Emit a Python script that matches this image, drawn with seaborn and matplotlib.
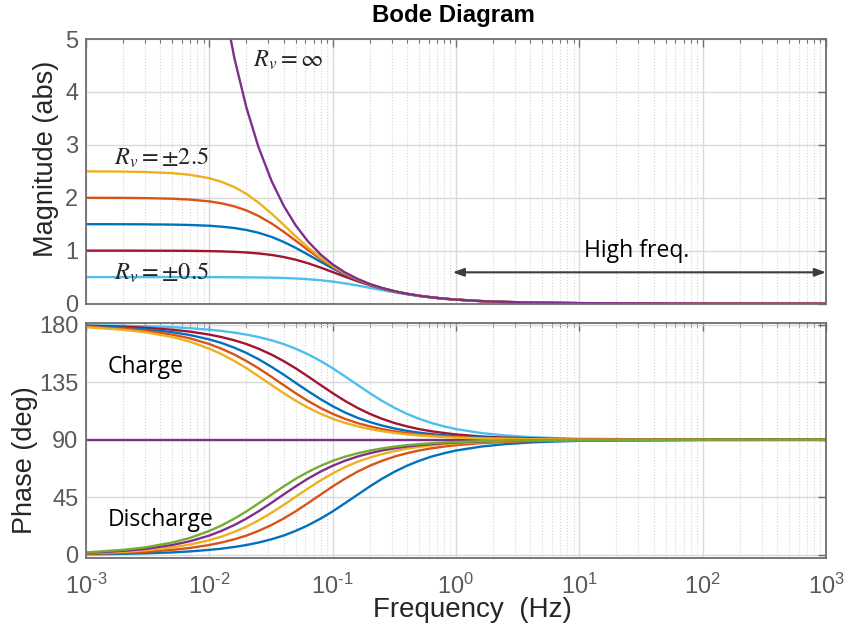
import numpy as np
import pandas as pd
import matplotlib
matplotlib.use("Agg")
import matplotlib.pyplot as plt
from matplotlib.ticker import FixedLocator, NullFormatter, FuncFormatter
import seaborn as sns

# Frequency grid (Hz)
freq = [0.001, 0.002, 0.003, 0.005, 0.007, 0.01, 0.0125, 0.016, 0.02, 0.025, 0.032, 0.04, 0.05,
        0.063, 0.08, 0.1, 0.125, 0.16, 0.2, 0.25, 0.32, 0.4, 0.5, 0.63, 0.8, 1, 1.6, 2.5, 4, 6.3,
        10, 100, 1000]

# Magnitude (abs) for each virtual resistance Rv
mag_r05 = [0.500, 0.500, 0.500, 0.500, 0.499, 0.499, 0.498, 0.497, 0.495, 0.493, 0.489, 0.483, 0.474,
           0.460, 0.440, 0.414, 0.382, 0.340, 0.297, 0.255, 0.210, 0.174, 0.142, 0.114, 0.091, 0.073,
           0.046, 0.030, 0.018, 0.012, 0.007, 0.001, 0.000]
mag_r10 = [1.000, 1.000, 0.999, 0.998, 0.996, 0.991, 0.986, 0.977, 0.965, 0.947, 0.918, 0.880, 0.829,
           0.762, 0.679, 0.595, 0.510, 0.420, 0.347, 0.284, 0.225, 0.182, 0.146, 0.117, 0.092, 0.074,
           0.046, 0.030, 0.019, 0.012, 0.007, 0.001, 0.000]
mag_r15 = [1.500, 1.499, 1.497, 1.492, 1.485, 1.470, 1.454, 1.427, 1.390, 1.338, 1.259, 1.165, 1.054,
           0.925, 0.788, 0.664, 0.551, 0.442, 0.359, 0.290, 0.229, 0.184, 0.147, 0.117, 0.092, 0.074,
           0.046, 0.030, 0.019, 0.012, 0.007, 0.001, 0.000]
mag_r20 = [1.999, 1.997, 1.993, 1.982, 1.965, 1.931, 1.895, 1.836, 1.760, 1.657, 1.513, 1.358, 1.190,
           1.013, 0.840, 0.694, 0.568, 0.451, 0.364, 0.293, 0.230, 0.184, 0.148, 0.117, 0.092, 0.074,
           0.046, 0.030, 0.019, 0.012, 0.007, 0.001, 0.000]
mag_r25 = [2.499, 2.494, 2.487, 2.465, 2.433, 2.369, 2.303, 2.199, 2.072, 1.910, 1.698, 1.487, 1.274,
           1.063, 0.868, 0.710, 0.576, 0.455, 0.366, 0.294, 0.230, 0.185, 0.148, 0.117, 0.092, 0.074,
           0.046, 0.030, 0.019, 0.012, 0.007, 0.001, 0.000]
mag_rinf = [74.03, 37.01, 24.68, 14.81, 10.58, 7.403, 5.922, 4.627, 3.701, 2.961, 2.313, 1.851, 1.481,
            1.175, 0.925, 0.740, 0.592, 0.463, 0.370, 0.296, 0.231, 0.185, 0.148, 0.118, 0.093, 0.074,
            0.046, 0.030, 0.019, 0.012, 0.007, 0.001, 0.000]

# Phase (deg) while charging (negative Rv)
chg_r05 = [179.6, 179.2, 178.8, 178.1, 177.3, 176.1, 175.2, 173.8, 172.3, 170.4, 167.8, 164.9, 161.3,
           156.9, 151.6, 146.0, 139.8, 132.8, 126.5, 120.6, 114.8, 110.3, 106.5, 103.2, 100.5, 98.4,
           95.3, 93.4, 92.1, 91.3, 90.8, 90.1, 90.0]
chg_r10 = [179.2, 178.5, 177.7, 176.1, 174.6, 172.3, 170.4, 167.8, 164.9, 161.3, 156.6, 151.6, 146.0,
           139.6, 132.8, 126.5, 120.6, 114.8, 110.3, 106.5, 103.0, 100.5, 98.4, 96.7, 95.3, 94.2,
           92.6, 91.7, 91.1, 90.7, 90.4, 90.0, 90.0]
chg_r15 = [178.8, 177.7, 176.5, 174.2, 171.9, 168.5, 165.8, 162.0, 157.9, 153.1, 147.0, 141.0, 134.6,
           128.1, 121.7, 116.3, 111.5, 107.1, 103.9, 101.2, 98.8, 97.0, 95.6, 94.5, 93.5, 92.8,
           91.8, 91.1, 90.7, 90.4, 90.3, 90.0, 90.0]
chg_r20 = [178.5, 176.9, 175.4, 172.3, 169.3, 164.9, 161.3, 156.6, 151.6, 146.0, 139.2, 132.8, 126.5,
           120.4, 114.8, 110.3, 106.5, 103.0, 100.5, 98.4, 96.6, 95.3, 94.2, 93.4, 92.6, 92.1,
           91.3, 90.8, 90.5, 90.3, 90.2, 90.0, 90.0]
chg_r25 = [178.1, 176.1, 174.2, 170.4, 166.7, 161.3, 157.1, 151.6, 146.0, 139.8, 132.8, 126.5, 120.6,
           115.2, 110.3, 106.5, 103.3, 100.5, 98.4, 96.8, 95.3, 94.2, 93.4, 92.7, 92.1, 91.7,
           91.1, 90.7, 90.4, 90.3, 90.2, 90.0, 90.0]

# Phase (deg) while discharging (positive Rv)
dis_r05 = [0.4, 0.8, 1.2, 1.9, 2.7, 3.9, 4.8, 6.2, 7.7, 9.6, 12.2, 15.1, 18.7,
           23.1, 28.4, 34.0, 40.2, 47.2, 53.5, 59.4, 65.2, 69.7, 73.5, 76.8, 79.5, 81.6,
           84.7, 86.6, 87.9, 88.7, 89.2, 89.9, 90.0]
dis_r10 = [0.8, 1.5, 2.3, 3.9, 5.4, 7.7, 9.6, 12.2, 15.1, 18.7, 23.4, 28.4, 34.0,
           40.4, 47.2, 53.5, 59.4, 65.2, 69.7, 73.5, 77.0, 79.5, 81.6, 83.3, 84.7, 85.8,
           87.4, 88.3, 88.9, 89.3, 89.6, 90.0, 90.0]
dis_r15 = [1.2, 2.3, 3.5, 5.8, 8.1, 11.5, 14.2, 18.0, 22.1, 26.9, 33.0, 39.0, 45.4,
           51.9, 58.3, 63.7, 68.5, 72.9, 76.1, 78.8, 81.2, 83.0, 84.4, 85.5, 86.5, 87.2,
           88.2, 88.9, 89.3, 89.6, 89.7, 90.0, 90.0]
dis_r20 = [1.5, 3.1, 4.6, 7.7, 10.7, 15.1, 18.7, 23.4, 28.4, 34.0, 40.8, 47.2, 53.5,
           59.6, 65.2, 69.7, 73.5, 77.0, 79.5, 81.6, 83.4, 84.7, 85.8, 86.6, 87.4, 87.9,
           88.7, 89.2, 89.5, 89.7, 89.8, 90.0, 90.0]
dis_r25 = [1.9, 3.9, 5.8, 9.6, 13.3, 18.7, 22.9, 28.4, 34.0, 40.2, 47.2, 53.5, 59.4,
           64.8, 69.7, 73.5, 76.7, 79.5, 81.6, 83.2, 84.7, 85.8, 86.6, 87.3, 87.9, 88.3,
           88.9, 89.3, 89.6, 89.7, 89.8, 90.0, 90.0]

# Phase (deg) for Rv = infinity
ph_rinf = [90.0, 90.0]
freq_rinf = [0.001, 1000]

# Axis ticks
decades = [1e-3, 1e-2, 1e-1, 1e0, 1e1, 1e2, 1e3]
mag_ticks = [0, 1, 2, 3, 4, 5]
phase_ticks = [0, 45, 90, 135, 180]

BLUE, ORANGE, YELLOW = "#0072BD", "#D95319", "#EDB120"
PURPLE, GREEN, CYAN, RED = "#7E2F8E", "#77AC30", "#4DBEEE", "#A2142F"

mag_series = [(mag_r05, CYAN), (mag_r10, RED), (mag_r15, BLUE), (mag_r20, ORANGE),
              (mag_r25, YELLOW), (mag_rinf, PURPLE)]
chg_series = [(chg_r05, CYAN), (chg_r10, RED), (chg_r15, BLUE), (chg_r20, ORANGE), (chg_r25, YELLOW)]
dis_series = [(dis_r05, BLUE), (dis_r10, ORANGE), (dis_r15, YELLOW), (dis_r20, PURPLE), (dis_r25, GREEN)]

sns.set_theme(style="white")
plt.rcParams['font.family'] = ['Liberation Sans', 'DejaVu Sans']
plt.rcParams['mathtext.fontset'] = 'custom'
plt.rcParams['mathtext.rm'] = 'Liberation Sans'
plt.rcParams['mathtext.it'] = 'Liberation Sans:italic'

SPINE = "#6e6e6e"
TICKTXT = "#5a5a5a"
LABEL = "#262626"
LW = 1.7

fig = plt.figure(figsize=(8.45, 6.35), dpi=100)
ax_mag = fig.add_axes([0.1018, 0.5220, 0.8757, 0.4165])
ax_ph = fig.add_axes([0.1018, 0.1220, 0.8757, 0.3698])

for vals, c in mag_series:
    sns.lineplot(x=freq, y=vals, ax=ax_mag, color=c, lw=LW)
sns.lineplot(x=freq_rinf, y=ph_rinf, ax=ax_ph, color=PURPLE, lw=LW)
for vals, c in chg_series:
    sns.lineplot(x=freq, y=vals, ax=ax_ph, color=c, lw=LW)
for vals, c in dis_series:
    sns.lineplot(x=freq, y=vals, ax=ax_ph, color=c, lw=LW)


def decade_label(v, pos):
    e = int(round(np.log10(v)))
    s = r"\text{-}" + str(-e) if e < 0 else str(e)
    return r"$10^{" + s + "}$"


minor_pos = [d * k for d in decades[:-1] for k in range(2, 10)]

for ax in (ax_mag, ax_ph):
    ax.set_xscale('log')
    ax.set_xlim(decades[0], decades[-1])
    ax.xaxis.set_major_locator(FixedLocator(decades))
    ax.xaxis.set_minor_locator(FixedLocator(minor_pos))
    ax.xaxis.set_minor_formatter(NullFormatter())
    ax.grid(True, which='major', color='#dadada', lw=1.0, ls='-')
    ax.grid(True, which='minor', axis='x', color='#d4d4d4', lw=0.8, ls=':')
    ax.set_axisbelow(True)
    ax.tick_params(which='both', direction='in', top=True, right=True,
                   color=SPINE, labelcolor=TICKTXT, labelsize=17)
    ax.tick_params(which='major', length=5.8, width=1.0)
    ax.tick_params(which='minor', length=3.2, width=0.8)
    ax.tick_params(axis='y', pad=5.5)
    for sp in ax.spines.values():
        sp.set_color(SPINE)
        sp.set_linewidth(1.3)
    ax.set_xlabel("")
    ax.set_ylabel("")

ax_mag.xaxis.set_major_formatter(NullFormatter())
ax_ph.xaxis.set_major_formatter(FuncFormatter(decade_label))
ax_ph.tick_params(axis='x', pad=12)
ax_mag.set_ylim(0, 5)
ax_mag.set_yticks(mag_ticks)
ax_ph.set_ylim(-2.1, 181.6)
ax_ph.set_yticks(phase_ticks)

fig.text(0.537, 0.976, "Bode Diagram", ha='center', va='center', fontsize=17.3,
         fontweight='bold', color='black')
fig.text(0.055, 0.750, "Magnitude (abs)", rotation=90, ha='center', va='center',
         fontsize=19.5, color=LABEL)
fig.text(0.029, 0.2756, "Phase (deg)", rotation=90, ha='center', va='center',
         fontsize=19.5, color=LABEL)
fig.text(0.5586, 0.039, "Frequency  (Hz)", ha='center', va='center', fontsize=20, color=LABEL)

ax_mag.text(0.0225, 4.48, r"$R_v = \infty$", math_fontfamily='stix', fontsize=17.5, va='baseline')
ax_mag.text(0.0017, 2.62, r"$R_v = \pm 2.5$", math_fontfamily='stix', fontsize=17.5, va='baseline')
ax_mag.text(0.0017, 0.45, r"$R_v = \pm 0.5$", math_fontfamily='stix', fontsize=17.5, va='baseline')
ax_mag.text(28.9, 0.88, "High freq.", family=['Open Sans', 'DejaVu Sans'], fontsize=16.5,
            ha='center', va='baseline', color='black')
ax_mag.annotate("", xy=(1000, 0.59), xytext=(0.94, 0.59), annotation_clip=False,
                arrowprops=dict(arrowstyle='<|-|>,head_length=0.55,head_width=0.2', color='#3c3c3c',
                                lw=1.5, shrinkA=0, shrinkB=0))
ax_ph.text(0.0015, 142.3, "Charge", family=['Open Sans', 'DejaVu Sans'], fontsize=16.5,
           va='baseline', color='black')
ax_ph.text(0.0015, 22.8, "Discharge", family=['Open Sans', 'DejaVu Sans'], fontsize=16.5,
           va='baseline', color='black')

fig.savefig("out.png")
